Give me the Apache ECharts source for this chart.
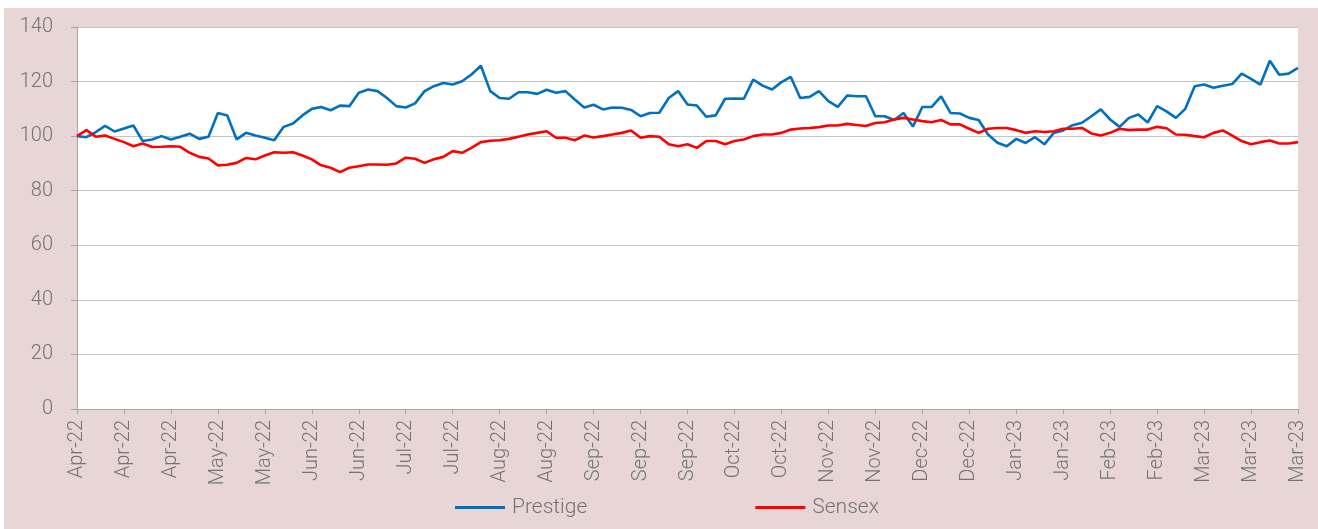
<!DOCTYPE html>
<html>
<head>
<meta charset="utf-8">
<script src="https://cdn.jsdelivr.net/npm/echarts@6/dist/echarts.min.js"></script>
<style>
  html, body { margin: 0; padding: 0; background: #ffffff; }
  #chart { position: absolute; left: 4px; top: 8px; width: 1314px; height: 521px; background: #e8d5d6; }
</style>
</head>
<body>
<div id="chart"></div>
<script>
// tick labels on the date axis, one every 5 points
var tickLabels = ['Apr-22', 'Apr-22', 'Apr-22', 'May-22', 'May-22', 'Jun-22', 'Jun-22', 'Jul-22', 'Jul-22',
    'Aug-22', 'Aug-22', 'Sep-22', 'Sep-22', 'Sep-22', 'Oct-22', 'Oct-22', 'Nov-22', 'Nov-22',
    'Dec-22', 'Dec-22', 'Jan-23', 'Jan-23', 'Feb-23', 'Feb-23', 'Mar-23', 'Mar-23', 'Mar-23'];

var seriesNames = ['Prestige', 'Sensex'];

// rebased to 100
var prestige = [
    100, 99.6, 101.5, 103.8, 101.7, 102.8, 103.9, 98.2, 98.8, 100,
    98.8, 99.8, 100.9, 99, 99.8, 108.5, 107.6, 98.8, 101.2, 100.2,
    99.4, 98.5, 103.4, 104.6, 107.6, 110, 110.7, 109.5, 111.2, 111,
    115.9, 117.1, 116.5, 114, 111, 110.5, 112, 116.5, 118.3, 119.5,
    118.9, 120.1, 122.6, 125.8, 116.5, 114, 113.7, 116.1, 116.1, 115.5,
    117, 115.9, 116.5, 113.4, 110.5, 111.5, 109.8, 110.5, 110.4, 109.6,
    107.3, 108.5, 108.6, 114, 116.5, 111.6, 111.2, 107.1, 107.6, 113.7,
    113.8, 113.7, 120.7, 118.5, 117.1, 119.8, 121.7, 114, 114.4, 116.5,
    112.8, 110.7, 114.9, 114.6, 114.6, 107.3, 107.3, 105.9, 108.5, 103.5,
    110.7, 110.7, 114.6, 108.5, 108.3, 106.7, 105.9, 100.6, 97.6, 96.3,
    99, 97.5, 99.6, 97, 101.2, 102.1, 104, 104.9, 107.3, 109.8,
    106.1, 103.4, 106.7, 107.9, 105, 111, 109.1, 106.7, 110, 118.3,
    118.9, 117.7, 118.5, 119.1, 122.9, 121, 118.9, 127.6, 122.5, 122.9,
    125
];

var sensex = [
    100, 102.2, 99.8, 100.2, 99, 97.8, 96.3, 97.3, 96, 96.1,
    96.3, 96.1, 93.9, 92.4, 91.8, 89.3, 89.5, 90.2, 92, 91.5,
    92.9, 94.1, 93.9, 94.1, 92.9, 91.5, 89.3, 88.4, 86.8, 88.4,
    89, 89.6, 89.6, 89.5, 90, 92.1, 91.7, 90.2, 91.5, 92.4,
    94.5, 93.9, 95.7, 97.8, 98.3, 98.5, 99, 99.8, 100.6, 101.2,
    101.8, 99.4, 99.4, 98.5, 100.2, 99.5, 100, 100.6, 101.2, 102.1,
    99.4, 100, 99.8, 97, 96.3, 97, 95.7, 98.2, 98.2, 97,
    98.2, 98.8, 100, 100.6, 100.6, 101.2, 102.4, 102.8, 103, 103.3,
    103.9, 103.9, 104.5, 104.1, 103.7, 104.8, 105.1, 106.1, 106.7, 106.1,
    105.5, 105.1, 105.9, 104.3, 104.3, 102.7, 101.2, 102.7, 103, 103,
    102.2, 101.2, 101.8, 101.5, 101.8, 102.7, 102.7, 103, 101, 100.2,
    101.2, 102.7, 102.2, 102.4, 102.4, 103.4, 102.9, 100.6, 100.5, 100,
    99.6, 101.2, 102.1, 100.2, 98.2, 97, 97.8, 98.4, 97.3, 97.3,
    97.8
];

var step = 5;
var categories = prestige.map(function (v, i) {
    return tickLabels[Math.floor(i / step)];
});

var textColor = '#737373';
var fontFamily = 'Roboto';

var myChart = echarts.init(document.getElementById('chart'));
myChart.setOption({
    animation: false,
    grid: {
        left: 73,
        right: 20,
        top: 19,
        bottom: 120,
        show: true,
        backgroundColor: '#ffffff',
        borderWidth: 0
    },
    legend: {
        bottom: 6,
        left: 446,
        itemWidth: 50,
        itemHeight: 3,
        itemGap: 168,
        icon: 'rect',
        textStyle: { color: textColor, fontSize: 21, fontFamily: fontFamily, fontWeight: 300, padding: [0, 0, 0, 2] },
        data: seriesNames
    },
    xAxis: {
        type: 'category',
        boundaryGap: false,
        data: categories,
        axisLine: { lineStyle: { color: '#a6a6a6', width: 1 } },
        axisTick: { show: true, interval: step - 1, length: 5, lineStyle: { color: '#a6a6a6' } },
        axisLabel: {
            interval: step - 1,
            rotate: 90,
            margin: 11,
            color: textColor,
            fontSize: 20,
            fontFamily: fontFamily,
            fontWeight: 300
        },
        splitLine: { show: false }
    },
    yAxis: {
        type: 'value',
        min: 0,
        max: 140,
        interval: 20,
        axisLine: { show: true, lineStyle: { color: '#a6a6a6', width: 1 } },
        axisTick: { show: true, length: 6, lineStyle: { color: '#a6a6a6' } },
        axisLabel: { margin: 24, color: textColor, fontSize: 20, fontFamily: fontFamily, fontWeight: 300 },
        splitLine: { lineStyle: { color: '#c4c4c4', width: 1 } }
    },
    series: [
        {
            name: seriesNames[0],
            type: 'line',
            data: prestige,
            showSymbol: false,
            symbol: 'none',
            color: '#0070c0',
            lineStyle: { width: 2.6, color: '#0070c0' },
            z: 3
        },
        {
            name: seriesNames[1],
            type: 'line',
            data: sensex,
            showSymbol: false,
            symbol: 'none',
            color: '#ff0000',
            lineStyle: { width: 2.6, color: '#ff0000' },
            z: 4
        }
    ]
});

window.addEventListener('resize', function () {
    myChart.resize();
});
</script>
</body>
</html>
